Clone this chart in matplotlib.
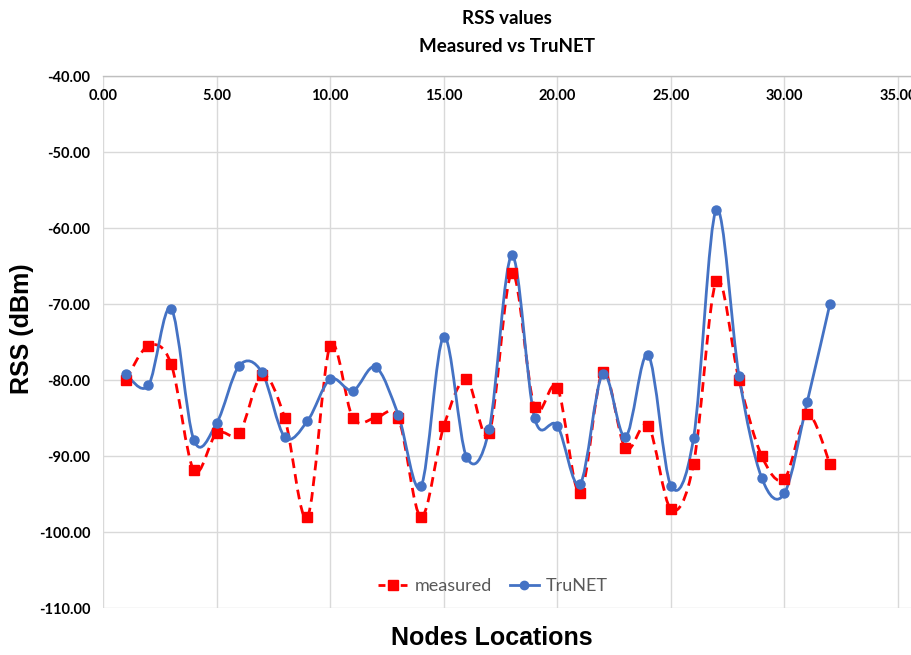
import numpy as np
import matplotlib.pyplot as plt
from matplotlib.path import Path
from matplotlib.patches import PathPatch
from matplotlib.lines import Line2D

# node index and RSS readings (dBm)
nodes = np.arange(1, 33)
measured = [-80.0, -75.5, -77.9, -91.9, -87.0, -87.0, -79.4, -85.0, -98.0, -75.5,
            -85.0, -85.0, -85.0, -98.0, -86.1, -79.9, -87.0, -65.9, -83.6, -81.0,
            -94.9, -78.9, -89.0, -86.0, -97.0, -91.0, -67.0, -80.0, -90.0, -93.0,
            -84.5, -91.0]
trunet = [-79.2, -80.7, -70.6, -87.9, -85.7, -78.1, -79.0, -87.5, -85.4, -79.9,
          -81.4, -78.3, -84.6, -94.0, -74.3, -90.1, -86.5, -63.6, -85.0, -86.0,
          -93.7, -79.2, -87.5, -76.7, -93.9, -87.6, -57.6, -79.5, -92.9, -94.9,
          -82.9, -70.0]

xticks = [0, 5, 10, 15, 20, 25, 30, 35]
yticks = [-110, -100, -90, -80, -70, -60, -50, -40]

RED = '#FF0000'
BLUE = '#4472C4'


def smooth_path(x, y):
    # excel-like smoothed line: catmull-rom turned into cubic bezier segments
    p = np.column_stack([x, y]).astype(float)
    ext = np.vstack([p[0], p, p[-1]])
    verts = [p[0]]
    codes = [Path.MOVETO]
    for i in range(len(p) - 1):
        p0, p1, p2, p3 = ext[i], ext[i+1], ext[i+2], ext[i+3]
        c1 = p1 + (p2 - p0) / 6
        c2 = p2 - (p3 - p1) / 6
        verts += [c1, c2, p2]
        codes += [Path.CURVE4] * 3
    return Path(verts, codes)


fig = plt.figure(figsize=(9.11, 6.55), dpi=100)
ax = fig.add_axes([103/911, 1 - 608/655, 1 - 103/911, (608 - 76)/655])

ax.add_patch(PathPatch(smooth_path(nodes, measured), fill=False, edgecolor=RED,
                       lw=2.0, linestyle=(0, (3.5, 2.2)), zorder=3))
ax.add_patch(PathPatch(smooth_path(nodes, trunet), fill=False, edgecolor=BLUE,
                       lw=2.0, zorder=4))
ax.plot(nodes, measured, ls='none', marker='s', ms=7.5, color=RED, zorder=5)
ax.plot(nodes, trunet, ls='none', marker='o', ms=6.5, color=BLUE, zorder=6)

ax.set_xlim(0, 35.57)
ax.set_ylim(-110, -40)
ax.set_xticks(xticks)
ax.set_yticks(yticks)
ax.set_xticklabels([f"{v:.2f}" for v in xticks])
ax.set_yticklabels([f"{v:.2f}" for v in yticks])
ax.grid(True, color='#D9D9D9', lw=1.0)
ax.set_axisbelow(True)
for s in ['left', 'right', 'bottom']:
    ax.spines[s].set_visible(False)
ax.spines['top'].set_color('#BFBFBF')
ax.spines['top'].set_linewidth(1.0)

ax.tick_params(axis='x', top=False, bottom=False, labeltop=True, labelbottom=False,
               length=0, pad=-19.5)
ax.tick_params(axis='y', left=False, length=0, pad=9)
for lab in ax.get_xticklabels() + ax.get_yticklabels():
    lab.set_fontfamily('Lato')
    lab.set_fontweight('bold')
    lab.set_fontsize(10.5)

fig.text(507/911, 1 - 18/655, 'RSS values', ha='center', va='center',
         fontsize=13.5, fontweight='bold', family='Lato')
fig.text(507/911, 1 - 46/655, 'Measured vs TruNET', ha='center', va='center',
         fontsize=13.5, fontweight='bold', family='Lato')
fig.text(22/911, 1 - 329/655, 'RSS (dBm)', ha='center', va='center', rotation=90,
         fontsize=18, fontweight='bold', family='Liberation Sans')
fig.text(492/911, 1 - 638/655, 'Nodes Locations', ha='center', va='center',
         fontsize=18, fontweight='bold', family='Liberation Sans')

handles = [Line2D([], [], color=RED, ls='--', lw=2, marker='s', ms=7.5, dashes=(2.5, 1.5)),
           Line2D([], [], color=BLUE, ls='-', lw=2, marker='o', ms=6)]
ax.legend(handles, ['measured', 'TruNET'], loc='center', bbox_to_anchor=(493/911, 1 - 586/655),
          bbox_transform=fig.transFigure, ncol=2, frameon=False, handlelength=1.6,
          columnspacing=1.0, handletextpad=0.4, prop={'family': 'Lato', 'size': 13},
          labelcolor='#595959')

fig.savefig('out.png', dpi=100)
